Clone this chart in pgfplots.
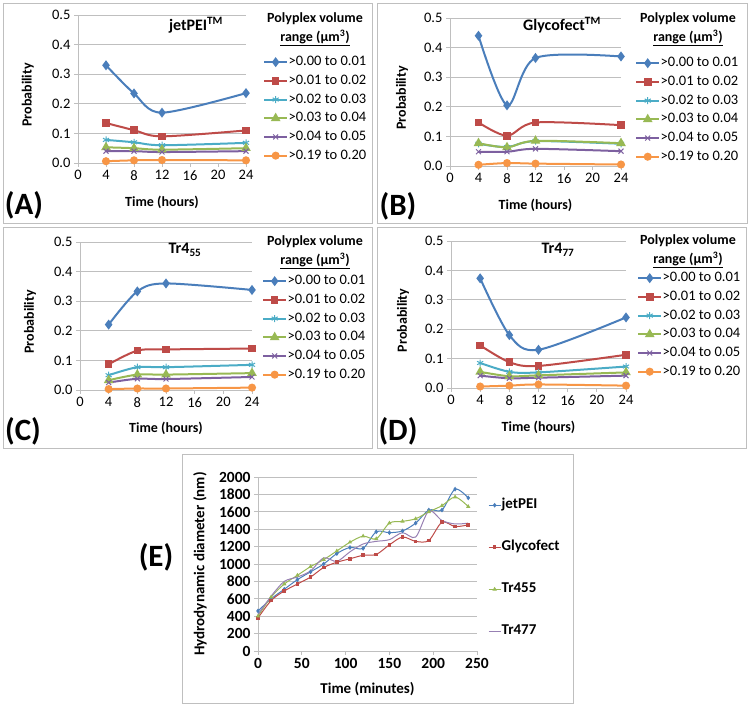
\documentclass[border=0pt]{standalone}
\usepackage{pgfplots}
\pgfplotsset{compat=1.18}
\usepackage{fontspec}
\setmainfont{Carlito}
\definecolor{cblue}{HTML}{4A7EBB}
\definecolor{cred}{HTML}{BE4B48}
\definecolor{ccyan}{HTML}{4BACC6}
\definecolor{cgreen}{HTML}{98B954}
\definecolor{cpurple}{HTML}{7D60A0}
\definecolor{corange}{HTML}{F79646}
\definecolor{gridc}{HTML}{BFBFBF}
\newcommand{\fs}[1]{\fontsize{#1}{#1}\selectfont}
\pgfplotsset{
  panel/.style={
    scale only axis,
    xmin=0, xmax=24, ymin=0, ymax=0.5,
    xtick={0,4,8,12,16,20,24},
    ytick={0,0.1,0.2,0.3,0.4,0.5},
    axis x line*=bottom, axis y line*=left,
    axis line style={gridc, line width=0.8pt},
    ymajorgrids, grid style={gridc, line width=0.8pt},
    tick style={gridc, line width=0.8pt}, tick align=outside, major tick length=4pt,
    /pgf/number format/assume math mode=true,
    yticklabel style={/pgf/number format/.cd, fixed, fixed zerofill, precision=1},
    ticklabel style={font=\fs{14.5}, text=black},
    xlabel={\textbf{Time (hours)}}, ylabel={\textbf{Probability}},
    label style={font=\fs{14}},
    legend style={anchor=north west, draw=none, fill=none, font=\fs{14.5},
      inner sep=0pt, row sep=4.7pt,
      nodes={inner xsep=0.5pt, inner ysep=0.5pt, text height=10pt, text depth=3pt}},
    legend cell align=left,
    legend image code/.code={\draw[mark repeat=2,mark phase=2] plot coordinates {(0pt,0pt) (11.5pt,0pt) (23pt,0pt)};},
    every axis plot/.append style={smooth, line width=2pt, mark options={solid}},
    clip=false,
  },
  sA/.style={cblue, mark=diamond*, mark size=3.4pt, mark options={fill=cblue}},
  sB/.style={cred, mark=square*, mark size=2.8pt, mark options={fill=cred}},
  sC/.style={ccyan, mark=asterisk, mark size=3.5pt, mark options={line width=1pt}},
  sD/.style={cgreen, mark=triangle*, mark size=3.6pt, mark options={fill=cgreen}},
  sE/.style={cpurple, mark=x, mark size=3.5pt, mark options={line width=1pt}},
  sF/.style={corange, mark=*, mark size=3pt, mark options={fill=corange}},
}
\newcommand{\legs}{\legend{>0.00 to 0.01,>0.01 to 0.02,>0.02 to 0.03,>0.03 to 0.04,>0.04 to 0.05,>0.19 to 0.20}}
\begin{document}
\begin{tikzpicture}[x=1pt,y=1pt]
\path[use as bounding box] (0,0) rectangle (750,706);
% frames
\draw[gridc, line width=0.8pt] (3,483) rectangle (372,703);
\draw[gridc, line width=0.8pt] (377,483) rectangle (747,703);
\draw[gridc, line width=0.8pt] (3,258) rectangle (372,479);
\draw[gridc, line width=0.8pt] (377,258) rectangle (746,479);
\draw[gridc, line width=0.8pt] (182,3) rectangle (573,252);

% ---------- A ----------
\begin{axis}[panel, at={(78pt,543pt)}, anchor=south west, width=168pt, height=148pt,
  ylabel style={at={(axis description cs:-0.298,0.46)}, anchor=center},
  xlabel style={at={(axis description cs:0.5,-0.264)}, anchor=center},
  legend style={at={(axis description cs:1.101,0.73)}}]
\addplot[sA] coordinates {(4,0.330) (8,0.235) (12,0.170) (24,0.236)};
\addplot[sB] coordinates {(4,0.135) (8,0.111) (12,0.090) (24,0.110)};
\addplot[sC] coordinates {(4,0.078) (8,0.070) (12,0.060) (24,0.068)};
\addplot[sD] coordinates {(4,0.053) (8,0.050) (12,0.045) (24,0.050)};
\addplot[sE] coordinates {(4,0.040) (8,0.040) (12,0.037) (24,0.040)};
\addplot[sF] coordinates {(4,0.006) (8,0.009) (12,0.010) (24,0.009)};
\legs
\end{axis}
% ---------- B ----------
\begin{axis}[panel, at={(450pt,540pt)}, anchor=south west, width=171pt, height=148pt,
  ylabel style={at={(axis description cs:-0.281,0.46)}, anchor=center},
  xlabel style={at={(axis description cs:0.5,-0.264)}, anchor=center},
  legend style={at={(axis description cs:1.082,0.743)}}]
\addplot[sA] coordinates {(4,0.440) (8,0.205) (12,0.365) (24,0.370)};
\addplot[sB] coordinates {(4,0.147) (8,0.102) (12,0.147) (24,0.138)};
\addplot[sC] coordinates {(4,0.075) (8,0.064) (12,0.084) (24,0.075)};
\addplot[sD] coordinates {(4,0.077) (8,0.063) (12,0.085) (24,0.077)};
\addplot[sE] coordinates {(4,0.048) (8,0.048) (12,0.058) (24,0.050)};
\addplot[sF] coordinates {(4,0.004) (8,0.010) (12,0.008) (24,0.005)};
\legs
\end{axis}
% ---------- C ----------
\begin{axis}[panel, at={(80pt,316pt)}, anchor=south west, width=172pt, height=148pt,
  ylabel style={at={(axis description cs:-0.291,0.46)}, anchor=center},
  xlabel style={at={(axis description cs:0.5,-0.257)}, anchor=center},
  legend style={at={(axis description cs:1.058,0.784)}}]
\addplot[sA] coordinates {(4,0.221) (8,0.333) (12,0.360) (24,0.338)};
\addplot[sB] coordinates {(4,0.087) (8,0.133) (12,0.137) (24,0.140)};
\addplot[sC] coordinates {(4,0.050) (8,0.077) (12,0.077) (24,0.085)};
\addplot[sD] coordinates {(4,0.033) (8,0.052) (12,0.052) (24,0.057)};
\addplot[sE] coordinates {(4,0.025) (8,0.038) (12,0.037) (24,0.044)};
\addplot[sF] coordinates {(4,0.003) (8,0.005) (12,0.005) (24,0.008)};
\legs
\end{axis}
% ---------- D ----------
\begin{axis}[panel, at={(451pt,318pt)}, anchor=south west, width=175pt, height=147pt,
  ylabel style={at={(axis description cs:-0.274,0.46)}, anchor=center},
  xlabel style={at={(axis description cs:0.5,-0.265)}, anchor=center},
  legend style={at={(axis description cs:1.063,0.796)}}]
\addplot[sA] coordinates {(4,0.373) (8,0.180) (12,0.130) (24,0.240)};
\addplot[sB] coordinates {(4,0.145) (8,0.088) (12,0.075) (24,0.113)};
\addplot[sC] coordinates {(4,0.085) (8,0.055) (12,0.053) (24,0.073)};
\addplot[sD] coordinates {(4,0.055) (8,0.040) (12,0.043) (24,0.053)};
\addplot[sE] coordinates {(4,0.042) (8,0.033) (12,0.035) (24,0.042)};
\addplot[sF] coordinates {(4,0.005) (8,0.008) (12,0.012) (24,0.008)};
\legs
\end{axis}
% ---------- E ----------
\begin{axis}[scale only axis, at={(258pt,55pt)}, anchor=south west, width=219pt, height=174pt,
  xmin=0, xmax=250, ymin=0, ymax=2000,
  xtick={0,50,100,150,200,250},
  ytick={0,200,400,600,800,1000,1200,1400,1600,1800,2000},
  axis x line*=bottom, axis y line*=left,
  axis line style={gridc, line width=0.8pt},
  ymajorgrids, grid style={gridc, line width=0.8pt},
  tick style={gridc, line width=0.8pt}, tick align=outside, major tick length=4pt,
  /pgf/number format/assume math mode=true,
  /pgf/number format/set thousands separator={},
  ticklabel style={font=\fs{15.5}\bfseries, text=black},
  xlabel={\textbf{Time (minutes)}}, ylabel={\textbf{Hydrodynamic diameter (nm)}},
  label style={font=\fs{15}},
  ylabel style={at={(axis description cs:-0.265,0.5)}, anchor=center},
  xlabel style={at={(axis description cs:0.5,-0.218)}, anchor=center},
  legend style={at={(axis description cs:1.05,0.879)}, anchor=north west, draw=none, fill=none,
    font=\fs{15}\bfseries, inner sep=0pt, row sep=28pt,
    nodes={inner xsep=0.5pt, inner ysep=0.5pt, text height=10pt, text depth=3pt}},
  legend cell align=left,
  legend image code/.code={\draw[mark repeat=2,mark phase=2] plot coordinates {(0pt,0pt) (6pt,0pt) (12pt,0pt)};},
  every axis plot/.append style={smooth, line width=1pt, mark options={solid}},
  clip=false]
\addplot[cblue, mark=diamond*, mark size=1.6pt] coordinates {
(0,460) (15,600) (30,710) (45,820) (60,910) (75,1000) (90,1120) (105,1190) (120,1180)
(135,1370) (150,1360) (165,1380) (180,1470) (195,1620) (210,1620) (225,1860) (240,1760)};
\addplot[cred, mark=square*, mark size=1.3pt] coordinates {
(0,380) (15,580) (30,690) (45,770) (60,850) (75,960) (90,1020) (105,1060) (120,1100)
(135,1110) (150,1220) (165,1310) (180,1260) (195,1270) (210,1480) (225,1430) (240,1450)};
\addplot[cgreen, mark=triangle*, mark size=1.5pt] coordinates {
(0,400) (15,620) (30,770) (45,870) (60,970) (75,1050) (90,1150) (105,1250) (120,1320)
(135,1290) (150,1470) (165,1490) (180,1520) (195,1600) (210,1670) (225,1770) (240,1660)};
\addplot[cpurple!80!white, mark=none] coordinates {
(0,420) (15,630) (30,800) (45,850) (60,920) (75,1070) (90,1030) (105,1140) (120,1230)
(135,1260) (150,1280) (165,1360) (180,1310) (195,1610) (210,1500) (225,1460) (240,1470)};
\legend{jetPEI,Glycofect,Tr455,Tr477}
\end{axis}

% titles
\node[font=\fs{16}\bfseries] at (196,681) {jetPEI\textsuperscript{TM}};
\node[font=\fs{16}\bfseries] at (562,681) {Glycofect\textsuperscript{TM}};
\node[font=\fs{16}\bfseries] at (185,456) {Tr4\textsubscript{55}};
\node[font=\fs{16}\bfseries] at (558,456) {Tr4\textsubscript{77}};
% legend headers
\foreach \cx/\cy in {315/687, 688/687, 315/464, 688/465} {
  \node[font=\fs{14}\bfseries] at (\cx,\cy) {Polyplex volume};
  \node[font=\fs{14}\bfseries] at (\cx,\cy-19) {\underline{range (µm\textsuperscript{3})}};
}
% panel letters
\node[font=\fs{31}\bfseries] at (24,501) {(A)};
\node[font=\fs{31}\bfseries] at (398,500) {(B)};
\node[font=\fs{31}\bfseries] at (23,275) {(C)};
\node[font=\fs{31}\bfseries] at (398,275) {(D)};
\node[font=\fs{31}\bfseries] at (156,149) {(E)};
\end{tikzpicture}
\end{document}
